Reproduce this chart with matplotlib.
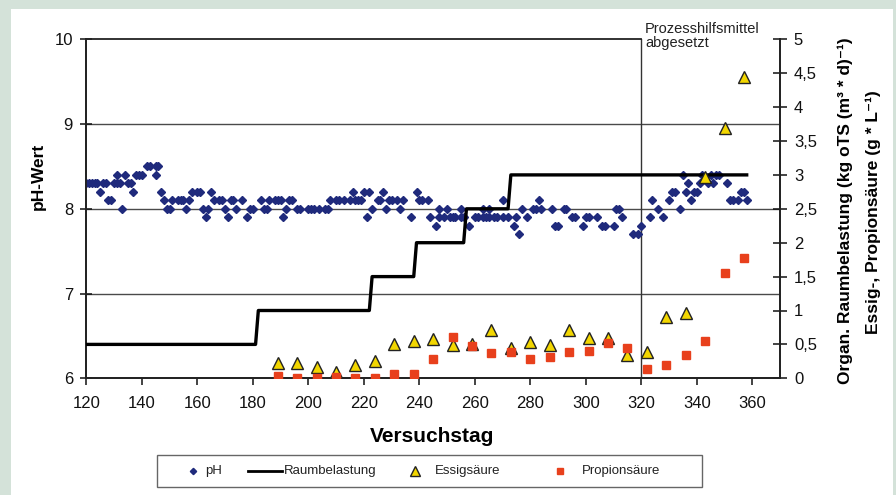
import matplotlib
matplotlib.use("Agg")
import matplotlib.pyplot as plt
from matplotlib.patches import Rectangle
from matplotlib.lines import Line2D
from matplotlib.ticker import FuncFormatter, MultipleLocator

plt.rcParams['font.family'] = ['Liberation Sans', 'DejaVu Sans']

# ---------------- data ----------------
ph_days = [120, 121, 122, 123, 124, 125, 126, 127, 128, 129, 130, 131, 132, 131, 133, 134,
           135, 136, 137, 138, 139, 140, 142, 143, 145, 146, 145, 147, 148, 149, 150,
           151, 153, 154, 155, 157, 156, 158, 160, 161, 162, 164, 163, 165, 166, 168, 169,
           170, 171, 172, 173, 174, 176, 178, 179, 180, 183, 184, 185, 186, 188, 189, 190,
           191, 192, 193, 194, 196, 197, 200, 201, 202, 204, 206, 207, 208, 210, 211, 213,
           215, 216, 218,
           217, 219, 220, 222, 221, 223, 225, 226, 227, 228, 229, 230, 232, 234, 233, 237,
           239, 240, 241, 243, 244, 246, 247, 250, 247, 249, 251, 252, 253, 255, 256, 255,
           258, 260, 261, 263, 264, 265, 267, 268, 270, 272, 263, 265, 270, 274, 275, 276,
           277, 279, 281, 282, 284, 288, 292, 293, 283, 289, 290, 295, 296, 299, 300, 301,
           304, 306, 307, 310, 311, 312, 313, 317,
           319, 320, 323, 324, 326, 328, 330, 331, 332, 334, 335, 336, 337, 338, 339, 340,
           341, 342, 344, 346, 345, 347, 348, 351, 352, 353, 355, 356, 357, 358]
ph_vals = [8.3, 8.3, 8.3, 8.3, 8.3, 8.2, 8.3, 8.3, 8.1, 8.1, 8.3, 8.3, 8.3, 8.4, 8.0, 8.4,
           8.3, 8.3, 8.2, 8.4, 8.4, 8.4, 8.5, 8.5, 8.5, 8.5, 8.4, 8.2, 8.1, 8.0, 8.0,
           8.1, 8.1, 8.1, 8.1, 8.1, 8.0, 8.2, 8.2, 8.2, 8.0, 8.0, 7.9, 8.2, 8.1, 8.1, 8.1,
           8.0, 7.9, 8.1, 8.1, 8.0, 8.1, 7.9, 8.0, 8.0, 8.1, 8.0, 8.0, 8.1, 8.1, 8.1, 8.1,
           7.9, 8.0, 8.1, 8.1, 8.0, 8.0, 8.0, 8.0, 8.0, 8.0, 8.0, 8.0, 8.1, 8.1, 8.1, 8.1,
           8.1, 8.2, 8.1,
           8.1, 8.1, 8.2, 8.2, 7.9, 8.0, 8.1, 8.1, 8.2, 8.0, 8.1, 8.1, 8.1, 8.1, 8.0, 7.9,
           8.2, 8.1, 8.1, 8.1, 7.9, 7.8, 8.0, 8.0, 7.9, 7.9, 7.9, 7.9, 7.9, 7.9, 7.9, 8.0,
           7.8, 7.9, 7.9, 7.9, 7.9, 7.9, 7.9, 7.9, 7.9, 7.9, 8.0, 8.0, 8.1, 7.8, 7.9, 7.7,
           8.0, 7.9, 8.0, 8.0, 8.0, 8.0, 8.0, 8.0, 8.1, 7.8, 7.8, 7.9, 7.9, 7.8, 7.9, 7.9,
           7.9, 7.8, 7.8, 7.8, 8.0, 8.0, 7.9, 7.7,
           7.7, 7.8, 7.9, 8.1, 8.0, 7.9, 8.1, 8.2, 8.2, 8.0, 8.4, 8.2, 8.3, 8.1, 8.2, 8.2,
           8.3, 8.4, 8.3, 8.3, 8.4, 8.4, 8.4, 8.3, 8.1, 8.1, 8.1, 8.2, 8.2, 8.1]

load_days = [120, 181, 182, 222, 223, 238, 239, 256, 257, 272, 273, 358]
load_vals = [0.5, 0.5, 1.0, 1.0, 1.5, 1.5, 2.0, 2.0, 2.5, 2.5, 3.0, 3.0]

acid_days = [189, 196, 203, 210, 217, 224, 231, 238, 245, 252, 259, 266, 273,
             280, 287, 294, 301, 308, 315, 322, 329, 336, 343, 350, 357]
essig_vals = [0.22, 0.23, 0.17, 0.09, 0.20, 0.25, 0.50, 0.55, 0.58, 0.49, 0.51, 0.71, 0.44,
              0.53, 0.49, 0.71, 0.59, 0.59, 0.34, 0.39, 0.90, 0.96, 2.97, 3.69, 4.44]
propion_vals = [0.03, 0.01, 0.01, 0.02, 0.01, 0.01, 0.06, 0.06, 0.29, 0.61, 0.48, 0.38, 0.39,
                0.29, 0.31, 0.39, 0.40, 0.52, 0.44, 0.14, 0.19, 0.35, 0.55, 1.55, 1.77]

x_ticks = [120, 140, 160, 180, 200, 220, 240, 260, 280, 300, 320, 340, 360]
ph_ticks = [6, 7, 8, 9, 10]
stop_day = 320
legend_labels = ['pH', 'Raumbelastung', 'Essigsäure', 'Propionsäure']

# ---------------- figure ----------------
W, H = 896, 495
fig = plt.figure(figsize=(W / 100, H / 100), dpi=100)
fig.patch.set_facecolor('#d4e2d9')
fig.patches.append(Rectangle((11 / W, 0), (893 - 11) / W, (H - 9) / H,
                             transform=fig.transFigure, facecolor='white',
                             edgecolor='none', zorder=-10))

L, R, T, B = 86.3, 780, 39.3, 378.3
ax = fig.add_axes([L / W, 1 - B / H, (R - L) / W, (B - T) / H])
ax.set_facecolor('none')
ax.set_xlim(120, 370)
ax.set_ylim(6, 10)
ax.set_xticks(x_ticks)
ax.set_yticks(ph_ticks)
for v in [7, 8, 9]:
    ax.axhline(v, color='#4a4a4a', lw=1.0, zorder=1)
ax.axvline(stop_day, color='#333333', lw=1.0, zorder=1)

ax2 = ax.twinx()
ax2.set_ylim(0, 5)
ax2.yaxis.set_major_locator(MultipleLocator(0.5))
ax2.yaxis.set_major_formatter(FuncFormatter(
    lambda v, p: ('%g' % v).replace('.', ',')))

for a in (ax, ax2):
    for s in a.spines.values():
        s.set_color('#222222')
        s.set_linewidth(1.3)
    a.spines['top'].set_visible(False)
ax.plot([120, stop_day], [10, 10], color='#222222', lw=1.3, clip_on=False, zorder=3)

ax.tick_params(axis='x', direction='out', length=5, width=1.1, pad=8,
               labelsize=12, colors='#111111')
ax.tick_params(axis='y', direction='inout', length=9, width=1.1, pad=5,
               labelsize=12, colors='#111111')
ax2.tick_params(axis='y', direction='inout', length=10, width=1.1, pad=5,
                labelsize=12, colors='#111111')

# series
ph_style = dict(linestyle='none', marker='D', ms=3.8, color='#1f2a7c')
load_style = dict(color='black', lw=2.4)
es_style = dict(linestyle='none', marker='^', ms=8.5, markerfacecolor='#f2d600',
                markeredgecolor='#222222', mew=1.0)
pr_style = dict(linestyle='none', marker='s', ms=5.5, color='#e8401c')

ax.plot(ph_days, ph_vals, zorder=4, **ph_style)
ax2.plot(load_days, load_vals, zorder=3, **load_style)
ax2.plot(acid_days, essig_vals, zorder=5, **es_style)
ax2.plot(acid_days, propion_vals, zorder=5, **pr_style)

# axis labels
fig.text(38 / W, 1 - 176 / H, 'pH-Wert', rotation=90, ha='center', va='center',
         fontsize=12.5, fontweight='bold')
fig.text(432 / W, 1 - 437 / H, 'Versuchstag', ha='center', va='center',
         fontsize=15, fontweight='bold')
fig.text(845 / W, 1 - 211 / H, 'Organ. Raumbelastung (kg oTS (m³ * d)⁻¹)',
         rotation=90, ha='center', va='center', fontsize=12.5, fontweight='bold')
fig.text(873 / W, 1 - 212 / H, 'Essig-, Propionsäure (g * L⁻¹)',
         rotation=90, ha='center', va='center', fontsize=12.5, fontweight='bold')
fig.text(645 / W, 1 - 22 / H, 'Prozesshilfsmittel\nabgesetzt', ha='left', va='top',
         fontsize=10.5, color='#222222', linespacing=1.0)

# legend (drawn in figure pixel positions)
fig.patches.append(Rectangle((157 / W, 1 - 487 / H), (702 - 157) / W, 32 / H,
                             transform=fig.transFigure, facecolor='white',
                             edgecolor='#666666', lw=1.0, zorder=5))
ly = 1 - 471 / H
def fx(px):
    return px / W
fig.add_artist(Line2D([fx(193)], [ly], transform=fig.transFigure, zorder=6,
                      **dict(ph_style, ms=3.2)))
fig.add_artist(Line2D([fx(248), fx(282)], [ly, ly], transform=fig.transFigure,
                      zorder=6, color='black', lw=2.0))
fig.add_artist(Line2D([fx(415)], [ly], transform=fig.transFigure, zorder=6,
                      **dict(es_style, ms=7.5)))
fig.add_artist(Line2D([fx(560)], [ly], transform=fig.transFigure, zorder=6,
                      **dict(pr_style, ms=4.8)))
for xp, lab in zip([205, 284, 435, 582], legend_labels):
    fig.text(fx(xp), ly, lab, ha='left', va='center', fontsize=9.5,
             color='#222222', zorder=7)

fig.savefig('out.png', dpi=100, facecolor=fig.get_facecolor())
